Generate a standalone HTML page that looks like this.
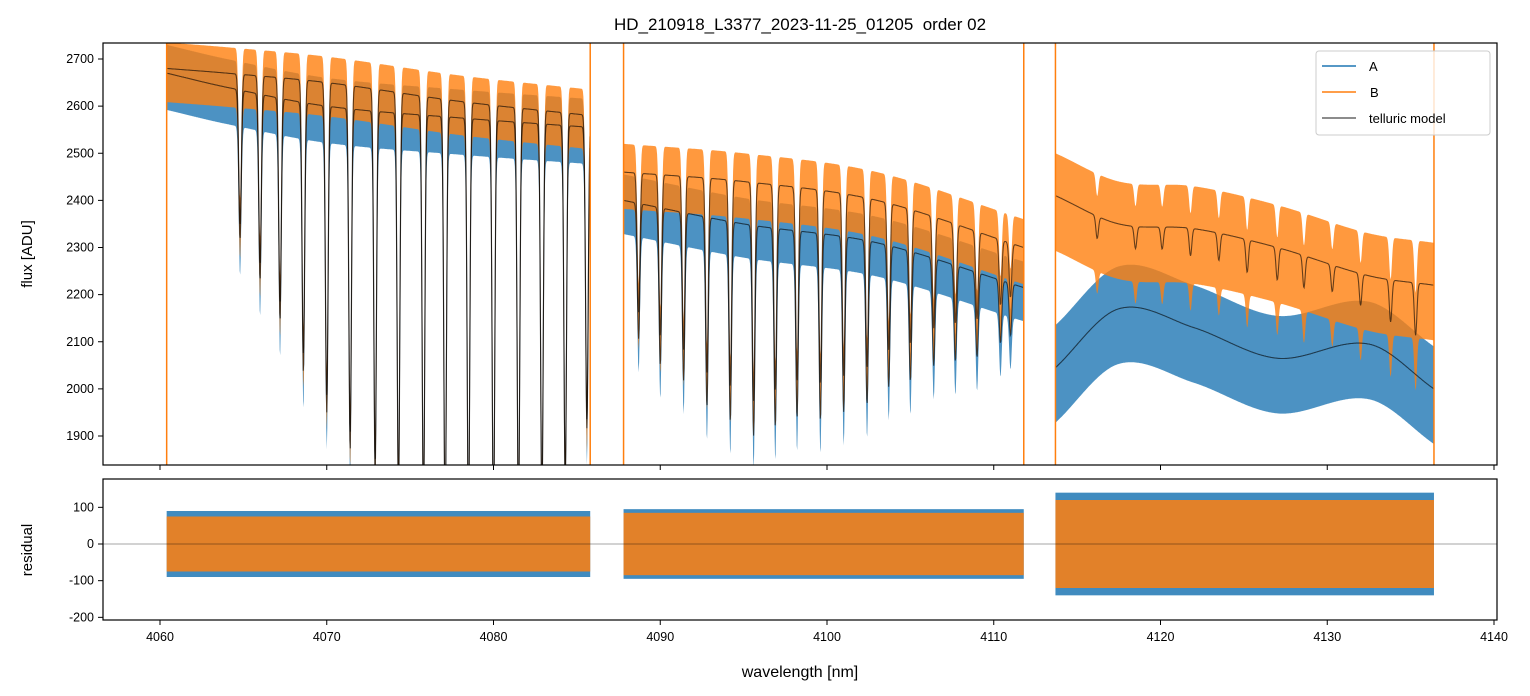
<!DOCTYPE html>
<html><head><meta charset="utf-8"><style>
body{margin:0;background:#fff;}
svg{display:block;font-family:"Liberation Sans","DejaVu Sans",sans-serif;}
</style></head><body>
<svg id="chart" width="1530" height="696" viewBox="0 0 1530 696">
<defs>
<clipPath id="clipTop"><rect x="103" y="43" width="1394" height="422"/></clipPath>
<clipPath id="clipBot"><rect x="103" y="479" width="1394" height="141"/></clipPath>
</defs>
<text x="800" y="30" text-anchor="middle" font-size="17">HD_210918_L3377_2023-11-25_01205&#160; order 02</text>
<g id="gtop" clip-path="url(#clipTop)"></g>
<g id="gbot" clip-path="url(#clipBot)"></g>
<rect x="103" y="43" width="1394" height="422" fill="none" stroke="#000" stroke-width="1.2"/>
<rect x="103" y="479" width="1394" height="141" fill="none" stroke="#000" stroke-width="1.2"/>
<g id="axes"></g>
<text x="32" y="254" text-anchor="middle" font-size="15" transform="rotate(-90 32 254)">flux [ADU]</text>
<text x="32" y="550" text-anchor="middle" font-size="15" transform="rotate(-90 32 550)">residual</text>
<text x="800" y="677" text-anchor="middle" font-size="16">wavelength [nm]</text>
<g>
<rect x="1316" y="51" width="174" height="84" rx="3" fill="#fff" fill-opacity="0.8" stroke="#ccc"/>
<line x1="1322" y1="66" x2="1356" y2="66" stroke="#1f77b4" stroke-width="1.5"/>
<text x="1369" y="71" font-size="13">A</text>
<line x1="1322" y1="92" x2="1356" y2="92" stroke="#ff7f0e" stroke-width="1.5"/>
<text x="1370" y="97" font-size="13">B</text>
<line x1="1322" y1="118" x2="1356" y2="118" stroke="#666" stroke-width="1.5"/>
<text x="1369" y="123" font-size="13">telluric model</text>
</g>
</svg>
<script>
// ---- data ----
const segments = [[4060.4, 4085.8], [4087.8, 4111.8], [4113.7, 4136.4]];
const contKnotsX = [4060.4, 4064, 4070, 4078, 4085.8, 4087.8, 4095, 4103, 4111.8, 4113.7, 4117.5, 4122, 4127, 4132.5, 4136.4];
const contA = [2670, 2640, 2600, 2575, 2555, 2400, 2350, 2310, 2215, 2045, 2170, 2130, 2065, 2095, 2000];
const contB = [2680, 2670, 2650, 2610, 2580, 2460, 2440, 2400, 2300, 2410, 2350, 2340, 2300, 2240, 2220];
const lineCenters = [4064.8,4066.0,4067.2,4068.6,4070.0,4071.4,4072.9,4074.3,4075.8,4077.1,4078.5,4080.0,4081.5,4082.9,4084.3,4085.6,
  4088.7,4090.0,4091.4,4092.8,4094.2,4095.6,4096.9,4098.2,4099.6,4101.0,4102.4,4103.7,4105.0,4106.4,4107.7,4109.0,4110.4,4111.0];
const lineDepths = [0.12,0.15,0.18,0.22,0.25,0.28,0.3,0.32,0.33,0.34,0.34,0.34,0.33,0.32,0.3,0.25,
  0.12,0.14,0.15,0.17,0.18,0.19,0.18,0.17,0.17,0.16,0.15,0.13,0.12,0.1,0.09,0.08,0.06,0.05];
const seg3Lines = [4116.2,4118.5,4120.1,4121.8,4123.5,4125.2,4127.0,4128.6,4130.3,4132.0,4133.8,4135.3];
const seg3Depths = [0.02,0.02,0.02,0.025,0.025,0.03,0.03,0.03,0.025,0.03,0.04,0.05];
const noiseA = [60, 55, 90];
const noiseB = [55, 60, 90];
const residA = [90, 95, 140];
const residB = [75, 85, 120];
const xTicks = [4060,4070,4080,4090,4100,4110,4120,4130,4140];
const yTicksTop = [1900,2000,2100,2200,2300,2400,2500,2600,2700];
const yTicksBot = [-200,-100,0,100];

// ---- scales ----
const X = w => 160 + (w - 4060) * 16.675;
const YT = f => 59 + (2700 - f) * 0.47125;
const YB = r => 544 - r * 0.3667;
const NS = 'http://www.w3.org/2000/svg';
function spline(xs, ys, x){
  const n = xs.length;
  if(n===1) return ys[0];
  let i = 0;
  while(i < n-2 && x > xs[i+1]) i++;
  const x0=xs[i], x1=xs[i+1], y0=ys[i], y1=ys[i+1];
  const h = x1-x0;
  const m = k => {
    if(k<=0) return (ys[1]-ys[0])/(xs[1]-xs[0]);
    if(k>=n-1) return (ys[n-1]-ys[n-2])/(xs[n-1]-xs[n-2]);
    return (ys[k+1]-ys[k-1])/(xs[k+1]-xs[k-1]);
  };
  const t = Math.max(0, Math.min(1, (x-x0)/h));
  const t2=t*t, t3=t2*t;
  return (2*t3-3*t2+1)*y0 + (t3-2*t2+t)*h*m(i) + (-2*t3+3*t2)*y1 + (t3-t2)*h*m(i+1);
}
function absorb(w, seg){
  let f=1;
  const cs = seg<2?lineCenters:seg3Lines, ds = seg<2?lineDepths:seg3Depths;
  for(let i=0;i<cs.length;i++){const d=(w-cs[i])/0.11; f*=1-ds[i]*Math.exp(-d*d);}
  return f;
}
function contSeg(k, w, s){
  const xs=[],ys=[];
  contKnotsX.forEach((x,i)=>{if(x>=segments[s][0]-0.01&&x<=segments[s][1]+0.01){xs.push(x);ys.push(k[i]);}});
  return spline(xs,ys,w);
}
function mk(tag, attrs, parent){const e=document.createElementNS(NS,tag);for(const a in attrs)e.setAttribute(a,attrs[a]);parent.appendChild(e);return e;}
const gTop = document.getElementById('gtop'), gBot = document.getElementById('gbot'), gAxes = document.getElementById('axes');

segments.forEach((sg, s) => {
  const step = 0.03;
  const ws=[]; for(let w=sg[0]; w<=sg[1]; w+=step) ws.push(w);
  const modA = ws.map(w => contSeg(contA,w,s) * (s===2?1:absorb(w,s)));
  const modB = ws.map(w => contSeg(contB,w,s) * absorb(w,s));
  const band = (mod, hw) => {
    let d='M'+ws.map((w,i)=>X(w).toFixed(1)+','+YT(mod[i]+hw).toFixed(1)).join('L');
    for(let i=ws.length-1;i>=0;i--) d+='L'+X(ws[i]).toFixed(1)+','+YT(mod[i]-hw*1.3).toFixed(1);
    return d+'Z';
  };
  const pa = mk('path',{d:band(modA,noiseA[s]),fill:'#1f77b4','fill-opacity':0.8},gTop);
  
  
  const pb = mk('path',{d:band(modB,noiseB[s]),fill:'#ff7f0e','fill-opacity':0.8},gTop);
  
  
  [modA, modB].forEach((m, j) => {
    const l = mk('path',{d:'M'+ws.map((w,i)=>X(w).toFixed(1)+','+YT(m[i]).toFixed(1)).join('L'),fill:'none',stroke:'#000','stroke-opacity':0.6,'stroke-width':1.1},gTop);
    
    
  });
  [[residA[s],'#1f77b4','a'],[residB[s],'#ff7f0e','b']].forEach(r => {
    const rc = mk('rect',{x:X(sg[0]),y:YB(r[0]),width:X(sg[1])-X(sg[0]),height:YB(-r[0])-YB(r[0]),fill:r[1],'fill-opacity':0.85},gBot);
    
    
  });
  [sg[0], sg[1]].forEach(w => {
    const sp = mk('line',{x1:X(w),x2:X(w),y1:43,y2:465,stroke:'#ff7f0e','stroke-width':1.5},gTop);
    
    
  });
});
const zl = mk('line',{x1:103,x2:1497,y1:YB(0),y2:YB(0),stroke:'#000','stroke-width':0.6,'stroke-opacity':0.7},gBot);



xTicks.forEach(t => {
  const x = X(t);
  mk('line',{x1:x,x2:x,y1:465,y2:470,stroke:'#000'},gAxes);
  mk('line',{x1:x,x2:x,y1:620,y2:625,stroke:'#000'},gAxes);
  const tx = mk('text',{x:x,y:641,'text-anchor':'middle','font-size':12.5},gAxes);
  tx.textContent = t;
  
  
});
yTicksTop.forEach(t => {
  const y = YT(t);
  mk('line',{x1:98,x2:103,y1:y,y2:y,stroke:'#000'},gAxes);
  const tx = mk('text',{x:94,y:y+4,'text-anchor':'end','font-size':12.5},gAxes);
  tx.textContent = t;
  
  
});
yTicksBot.forEach(t => {
  const y = YB(t);
  mk('line',{x1:98,x2:103,y1:y,y2:y,stroke:'#000'},gAxes);
  const tx = mk('text',{x:94,y:y+4,'text-anchor':'end','font-size':12.5},gAxes);
  tx.textContent = t;
  
  
});
</script>
</body></html>
